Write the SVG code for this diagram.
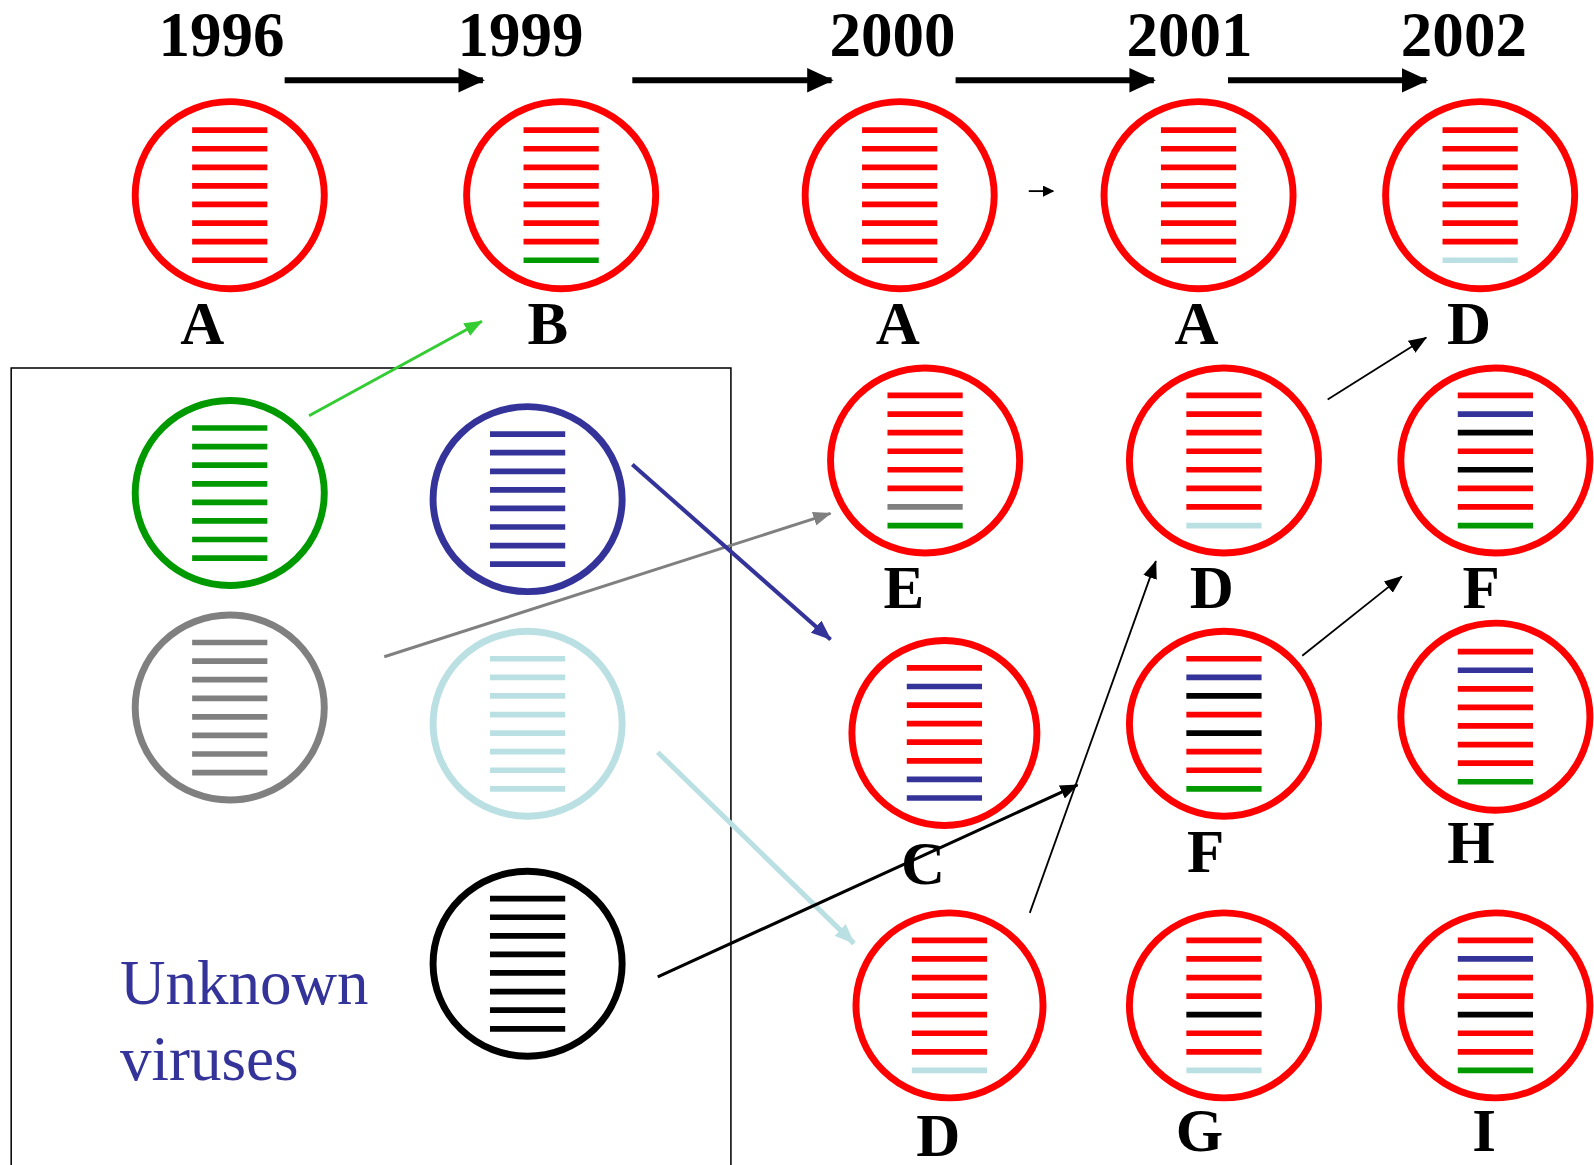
<svg xmlns="http://www.w3.org/2000/svg" width="1594" height="1165" viewBox="0 0 1594 1165">
  <style>
    .yr { font-family: "Liberation Serif", "Times New Roman", serif; font-weight: bold; font-size: 62px; fill: #000; text-anchor: middle; }
    .lbl { font-family: "Liberation Serif", "Times New Roman", serif; font-weight: bold; font-size: 60px; fill: #000; text-anchor: middle; }
    .note { font-family: "Liberation Serif", "Times New Roman", serif; font-size: 62px; fill: #333399; }
    .cell { fill: none; stroke-width: 6.8; }
    .bar { stroke-width: 5.6; }
    .r { stroke: #ff0000; }
    .g { stroke: #009900; }
    .b { stroke: #333399; }
    .k { stroke: #000000; }
    .s { stroke: #808080; }
    .c { stroke: #bbe0e3; }
  </style>
  <defs>
    <marker id="headBig" markerUnits="userSpaceOnUse" markerWidth="26" markerHeight="24" refX="24" refY="12" orient="auto">
      <path d="M0,0 L26,12 L0,24 Z" fill="#000"/>
    </marker>
    <marker id="headGreen" markerUnits="userSpaceOnUse" markerWidth="18" markerHeight="14" refX="17" refY="7" orient="auto">
      <path d="M0,0 L18,7 L0,14 Z" fill="#33cc33"/>
    </marker>
    <marker id="headGray" markerUnits="userSpaceOnUse" markerWidth="18" markerHeight="14" refX="17" refY="7" orient="auto">
      <path d="M0,0 L18,7 L0,14 Z" fill="#808080"/>
    </marker>
    <marker id="headBlue" markerUnits="userSpaceOnUse" markerWidth="20" markerHeight="16" refX="19" refY="8" orient="auto">
      <path d="M0,0 L20,8 L0,16 Z" fill="#333399"/>
    </marker>
    <marker id="headCyan" markerUnits="userSpaceOnUse" markerWidth="20" markerHeight="16" refX="19" refY="8" orient="auto">
      <path d="M0,0 L20,8 L0,16 Z" fill="#bbe0e3"/>
    </marker>
    <marker id="headBlack" markerUnits="userSpaceOnUse" markerWidth="18" markerHeight="14" refX="17" refY="7" orient="auto">
      <path d="M0,0 L18,7 L0,14 Z" fill="#000"/>
    </marker>
    <marker id="headTiny" markerUnits="userSpaceOnUse" markerWidth="11" markerHeight="11" refX="10" refY="5.5" orient="auto">
      <path d="M0,0 L11,5.5 L0,11 Z" fill="#000"/>
    </marker>
  </defs>

  <rect width="1594" height="1165" fill="#fff"/>

  <g transform="scale(1.01658)">
    <!-- year headings -->
    <g id="years">
      <text class="yr" x="218" y="55">1996</text>
      <text class="yr" x="512" y="55">1999</text>
      <text class="yr" x="878" y="55">2000</text>
      <text class="yr" x="1170" y="55">2001</text>
      <text class="yr" x="1440" y="55">2002</text>
    </g>

    <!-- frame around the unknown viruses -->
    <rect id="unknown-box" x="11" y="362" width="708" height="820" fill="none" stroke="#000" stroke-width="1.5"/>
    <g id="unknown-label">
      <text class="note" x="118" y="988">Unknown</text>
      <text class="note" x="118" y="1062">viruses</text>
    </g>

    <!-- connectors -->
    <g id="connectors" fill="none">
      <line x1="280" y1="79" x2="475" y2="79" stroke="#000" stroke-width="6" marker-end="url(#headBig)"/>
      <line x1="622" y1="79" x2="818" y2="79" stroke="#000" stroke-width="6" marker-end="url(#headBig)"/>
      <line x1="940" y1="79" x2="1135" y2="79" stroke="#000" stroke-width="6" marker-end="url(#headBig)"/>
      <line x1="1208" y1="79" x2="1403" y2="79" stroke="#000" stroke-width="6" marker-end="url(#headBig)"/>
      <line x1="1012" y1="188" x2="1036" y2="188" stroke="#000" stroke-width="1.8" marker-end="url(#headTiny)"/>
      <line x1="304" y1="409" x2="474" y2="316" stroke="#33cc33" stroke-width="3" marker-end="url(#headGreen)"/>
      <line x1="378" y1="646" x2="817" y2="505" stroke="#808080" stroke-width="3" marker-end="url(#headGray)"/>
      <line x1="622" y1="457" x2="817" y2="629" stroke="#333399" stroke-width="4" marker-end="url(#headBlue)"/>
      <line x1="647" y1="740" x2="840" y2="928" stroke="#bbe0e3" stroke-width="5" marker-end="url(#headCyan)"/>
      <line x1="647" y1="961" x2="1060" y2="772" stroke="#000" stroke-width="3" marker-end="url(#headBlack)"/>
      <line x1="1013" y1="898" x2="1137" y2="552" stroke="#000" stroke-width="1.8" marker-end="url(#headBlack)"/>
      <line x1="1281" y1="645" x2="1379" y2="567" stroke="#000" stroke-width="1.8" marker-end="url(#headBlack)"/>
      <line x1="1306" y1="393" x2="1403" y2="332" stroke="#000" stroke-width="1.8" marker-end="url(#headBlack)"/>
    </g>

    <!-- virus A, 1996 -->
    <g id="v1996-A" transform="translate(226,192)">
      <ellipse class="cell r" rx="93" ry="92"/>
      <g class="bar">
        <line class="r" x1="-37" x2="37" y1="-64" y2="-64"/>
        <line class="r" x1="-37" x2="37" y1="-45.7" y2="-45.7"/>
        <line class="r" x1="-37" x2="37" y1="-27.4" y2="-27.4"/>
        <line class="r" x1="-37" x2="37" y1="-9.1" y2="-9.1"/>
        <line class="r" x1="-37" x2="37" y1="9.1" y2="9.1"/>
        <line class="r" x1="-37" x2="37" y1="27.4" y2="27.4"/>
        <line class="r" x1="-37" x2="37" y1="45.7" y2="45.7"/>
        <line class="r" x1="-37" x2="37" y1="64" y2="64"/>
      </g>
      <text class="lbl" x="-27" y="146">A</text>
    </g>

    <!-- virus B, 1999 -->
    <g id="v1999-B" transform="translate(552,192)">
      <ellipse class="cell r" rx="93" ry="92"/>
      <g class="bar">
        <line class="r" x1="-37" x2="37" y1="-64" y2="-64"/>
        <line class="r" x1="-37" x2="37" y1="-45.7" y2="-45.7"/>
        <line class="r" x1="-37" x2="37" y1="-27.4" y2="-27.4"/>
        <line class="r" x1="-37" x2="37" y1="-9.1" y2="-9.1"/>
        <line class="r" x1="-37" x2="37" y1="9.1" y2="9.1"/>
        <line class="r" x1="-37" x2="37" y1="27.4" y2="27.4"/>
        <line class="r" x1="-37" x2="37" y1="45.7" y2="45.7"/>
        <line class="g" x1="-37" x2="37" y1="64" y2="64"/>
      </g>
      <text class="lbl" x="-13" y="146">B</text>
    </g>

    <!-- virus A, 2000 -->
    <g id="v2000-A" transform="translate(885,192)">
      <ellipse class="cell r" rx="93" ry="92"/>
      <g class="bar">
        <line class="r" x1="-37" x2="37" y1="-64" y2="-64"/>
        <line class="r" x1="-37" x2="37" y1="-45.7" y2="-45.7"/>
        <line class="r" x1="-37" x2="37" y1="-27.4" y2="-27.4"/>
        <line class="r" x1="-37" x2="37" y1="-9.1" y2="-9.1"/>
        <line class="r" x1="-37" x2="37" y1="9.1" y2="9.1"/>
        <line class="r" x1="-37" x2="37" y1="27.4" y2="27.4"/>
        <line class="r" x1="-37" x2="37" y1="45.7" y2="45.7"/>
        <line class="r" x1="-37" x2="37" y1="64" y2="64"/>
      </g>
      <text class="lbl" x="-2" y="146">A</text>
    </g>

    <!-- virus A, 2001 -->
    <g id="v2001-A" transform="translate(1179,192)">
      <ellipse class="cell r" rx="93" ry="92"/>
      <g class="bar">
        <line class="r" x1="-37" x2="37" y1="-64" y2="-64"/>
        <line class="r" x1="-37" x2="37" y1="-45.7" y2="-45.7"/>
        <line class="r" x1="-37" x2="37" y1="-27.4" y2="-27.4"/>
        <line class="r" x1="-37" x2="37" y1="-9.1" y2="-9.1"/>
        <line class="r" x1="-37" x2="37" y1="9.1" y2="9.1"/>
        <line class="r" x1="-37" x2="37" y1="27.4" y2="27.4"/>
        <line class="r" x1="-37" x2="37" y1="45.7" y2="45.7"/>
        <line class="r" x1="-37" x2="37" y1="64" y2="64"/>
      </g>
      <text class="lbl" x="-2" y="146">A</text>
    </g>

    <!-- virus D, 2002 -->
    <g id="v2002-D" transform="translate(1456,192)">
      <ellipse class="cell r" rx="93" ry="92"/>
      <g class="bar">
        <line class="r" x1="-37" x2="37" y1="-64" y2="-64"/>
        <line class="r" x1="-37" x2="37" y1="-45.7" y2="-45.7"/>
        <line class="r" x1="-37" x2="37" y1="-27.4" y2="-27.4"/>
        <line class="r" x1="-37" x2="37" y1="-9.1" y2="-9.1"/>
        <line class="r" x1="-37" x2="37" y1="9.1" y2="9.1"/>
        <line class="r" x1="-37" x2="37" y1="27.4" y2="27.4"/>
        <line class="r" x1="-37" x2="37" y1="45.7" y2="45.7"/>
        <line class="c" x1="-37" x2="37" y1="64" y2="64"/>
      </g>
      <text class="lbl" x="-11" y="146">D</text>
    </g>

    <!-- virus E, 2000 -->
    <g id="v2000-E" transform="translate(910,453)">
      <ellipse class="cell r" rx="93" ry="91"/>
      <g class="bar">
        <line class="r" x1="-37" x2="37" y1="-64" y2="-64"/>
        <line class="r" x1="-37" x2="37" y1="-45.7" y2="-45.7"/>
        <line class="r" x1="-37" x2="37" y1="-27.4" y2="-27.4"/>
        <line class="r" x1="-37" x2="37" y1="-9.1" y2="-9.1"/>
        <line class="r" x1="-37" x2="37" y1="9.1" y2="9.1"/>
        <line class="r" x1="-37" x2="37" y1="27.4" y2="27.4"/>
        <line class="s" x1="-37" x2="37" y1="45.7" y2="45.7"/>
        <line class="g" x1="-37" x2="37" y1="64" y2="64"/>
      </g>
      <text class="lbl" x="-21" y="145">E</text>
    </g>

    <!-- virus D, 2001 -->
    <g id="v2001-D" transform="translate(1204,453)">
      <ellipse class="cell r" rx="93" ry="91"/>
      <g class="bar">
        <line class="r" x1="-37" x2="37" y1="-64" y2="-64"/>
        <line class="r" x1="-37" x2="37" y1="-45.7" y2="-45.7"/>
        <line class="r" x1="-37" x2="37" y1="-27.4" y2="-27.4"/>
        <line class="r" x1="-37" x2="37" y1="-9.1" y2="-9.1"/>
        <line class="r" x1="-37" x2="37" y1="9.1" y2="9.1"/>
        <line class="r" x1="-37" x2="37" y1="27.4" y2="27.4"/>
        <line class="r" x1="-37" x2="37" y1="45.7" y2="45.7"/>
        <line class="c" x1="-37" x2="37" y1="64" y2="64"/>
      </g>
      <text class="lbl" x="-12" y="145">D</text>
    </g>

    <!-- virus F, 2002 -->
    <g id="v2002-F" transform="translate(1471,453)">
      <ellipse class="cell r" rx="93" ry="91"/>
      <g class="bar">
        <line class="r" x1="-37" x2="37" y1="-64" y2="-64"/>
        <line class="b" x1="-37" x2="37" y1="-45.7" y2="-45.7"/>
        <line class="k" x1="-37" x2="37" y1="-27.4" y2="-27.4"/>
        <line class="r" x1="-37" x2="37" y1="-9.1" y2="-9.1"/>
        <line class="k" x1="-37" x2="37" y1="9.1" y2="9.1"/>
        <line class="r" x1="-37" x2="37" y1="27.4" y2="27.4"/>
        <line class="r" x1="-37" x2="37" y1="45.7" y2="45.7"/>
        <line class="g" x1="-37" x2="37" y1="64" y2="64"/>
      </g>
      <text class="lbl" x="-14" y="145">F</text>
    </g>

    <!-- virus C, 2000 -->
    <g id="v2000-C" transform="translate(929,721)">
      <ellipse class="cell r" rx="91" ry="91"/>
      <g class="bar">
        <line class="r" x1="-37" x2="37" y1="-64" y2="-64"/>
        <line class="b" x1="-37" x2="37" y1="-45.7" y2="-45.7"/>
        <line class="r" x1="-37" x2="37" y1="-27.4" y2="-27.4"/>
        <line class="r" x1="-37" x2="37" y1="-9.1" y2="-9.1"/>
        <line class="r" x1="-37" x2="37" y1="9.1" y2="9.1"/>
        <line class="r" x1="-37" x2="37" y1="27.4" y2="27.4"/>
        <line class="b" x1="-37" x2="37" y1="45.7" y2="45.7"/>
        <line class="b" x1="-37" x2="37" y1="64" y2="64"/>
      </g>
      <text class="lbl" x="-21" y="149">C</text>
    </g>

    <!-- virus F, 2001 -->
    <g id="v2001-F" transform="translate(1204,712)">
      <ellipse class="cell r" rx="93" ry="91"/>
      <g class="bar">
        <line class="r" x1="-37" x2="37" y1="-64" y2="-64"/>
        <line class="b" x1="-37" x2="37" y1="-45.7" y2="-45.7"/>
        <line class="k" x1="-37" x2="37" y1="-27.4" y2="-27.4"/>
        <line class="r" x1="-37" x2="37" y1="-9.1" y2="-9.1"/>
        <line class="k" x1="-37" x2="37" y1="9.1" y2="9.1"/>
        <line class="r" x1="-37" x2="37" y1="27.4" y2="27.4"/>
        <line class="r" x1="-37" x2="37" y1="45.7" y2="45.7"/>
        <line class="g" x1="-37" x2="37" y1="64" y2="64"/>
      </g>
      <text class="lbl" x="-18" y="146">F</text>
    </g>

    <!-- virus H, 2002 -->
    <g id="v2002-H" transform="translate(1471,705)">
      <ellipse class="cell r" rx="93" ry="92"/>
      <g class="bar">
        <line class="r" x1="-37" x2="37" y1="-64" y2="-64"/>
        <line class="b" x1="-37" x2="37" y1="-45.7" y2="-45.7"/>
        <line class="r" x1="-37" x2="37" y1="-27.4" y2="-27.4"/>
        <line class="r" x1="-37" x2="37" y1="-9.1" y2="-9.1"/>
        <line class="r" x1="-37" x2="37" y1="9.1" y2="9.1"/>
        <line class="r" x1="-37" x2="37" y1="27.4" y2="27.4"/>
        <line class="r" x1="-37" x2="37" y1="45.7" y2="45.7"/>
        <line class="g" x1="-37" x2="37" y1="64" y2="64"/>
      </g>
      <text class="lbl" x="-24" y="144">H</text>
    </g>

    <!-- virus D, 2000 (lower) -->
    <g id="v2000-D" transform="translate(934,989)">
      <ellipse class="cell r" rx="92" ry="91"/>
      <g class="bar">
        <line class="r" x1="-37" x2="37" y1="-64" y2="-64"/>
        <line class="r" x1="-37" x2="37" y1="-45.7" y2="-45.7"/>
        <line class="r" x1="-37" x2="37" y1="-27.4" y2="-27.4"/>
        <line class="r" x1="-37" x2="37" y1="-9.1" y2="-9.1"/>
        <line class="r" x1="-37" x2="37" y1="9.1" y2="9.1"/>
        <line class="r" x1="-37" x2="37" y1="27.4" y2="27.4"/>
        <line class="r" x1="-37" x2="37" y1="45.7" y2="45.7"/>
        <line class="c" x1="-37" x2="37" y1="64" y2="64"/>
      </g>
      <text class="lbl" x="-11" y="148">D</text>
    </g>

    <!-- virus G, 2001 -->
    <g id="v2001-G" transform="translate(1204,989)">
      <ellipse class="cell r" rx="93" ry="91"/>
      <g class="bar">
        <line class="r" x1="-37" x2="37" y1="-64" y2="-64"/>
        <line class="r" x1="-37" x2="37" y1="-45.7" y2="-45.7"/>
        <line class="r" x1="-37" x2="37" y1="-27.4" y2="-27.4"/>
        <line class="r" x1="-37" x2="37" y1="-9.1" y2="-9.1"/>
        <line class="k" x1="-37" x2="37" y1="9.1" y2="9.1"/>
        <line class="r" x1="-37" x2="37" y1="27.4" y2="27.4"/>
        <line class="r" x1="-37" x2="37" y1="45.7" y2="45.7"/>
        <line class="c" x1="-37" x2="37" y1="64" y2="64"/>
      </g>
      <text class="lbl" x="-24" y="143">G</text>
    </g>

    <!-- virus I, 2002 -->
    <g id="v2002-I" transform="translate(1471,989)">
      <ellipse class="cell r" rx="93" ry="91"/>
      <g class="bar">
        <line class="r" x1="-37" x2="37" y1="-64" y2="-64"/>
        <line class="b" x1="-37" x2="37" y1="-45.7" y2="-45.7"/>
        <line class="r" x1="-37" x2="37" y1="-27.4" y2="-27.4"/>
        <line class="r" x1="-37" x2="37" y1="-9.1" y2="-9.1"/>
        <line class="k" x1="-37" x2="37" y1="9.1" y2="9.1"/>
        <line class="r" x1="-37" x2="37" y1="27.4" y2="27.4"/>
        <line class="r" x1="-37" x2="37" y1="45.7" y2="45.7"/>
        <line class="g" x1="-37" x2="37" y1="64" y2="64"/>
      </g>
      <text class="lbl" x="-11" y="143">I</text>
    </g>

    <!-- unknown virus pool -->
    <g id="unknown-green" transform="translate(226,485)">
      <ellipse class="cell g" rx="93" ry="91"/>
      <g class="bar g">
        <line x1="-37" x2="37" y1="-64" y2="-64"/>
        <line x1="-37" x2="37" y1="-45.7" y2="-45.7"/>
        <line x1="-37" x2="37" y1="-27.4" y2="-27.4"/>
        <line x1="-37" x2="37" y1="-9.1" y2="-9.1"/>
        <line x1="-37" x2="37" y1="9.1" y2="9.1"/>
        <line x1="-37" x2="37" y1="27.4" y2="27.4"/>
        <line x1="-37" x2="37" y1="45.7" y2="45.7"/>
        <line x1="-37" x2="37" y1="64" y2="64"/>
      </g>
    </g>

    <g id="unknown-blue" transform="translate(519,491)">
      <ellipse class="cell b" rx="93" ry="91"/>
      <g class="bar b">
        <line x1="-37" x2="37" y1="-64" y2="-64"/>
        <line x1="-37" x2="37" y1="-45.7" y2="-45.7"/>
        <line x1="-37" x2="37" y1="-27.4" y2="-27.4"/>
        <line x1="-37" x2="37" y1="-9.1" y2="-9.1"/>
        <line x1="-37" x2="37" y1="9.1" y2="9.1"/>
        <line x1="-37" x2="37" y1="27.4" y2="27.4"/>
        <line x1="-37" x2="37" y1="45.7" y2="45.7"/>
        <line x1="-37" x2="37" y1="64" y2="64"/>
      </g>
    </g>

    <g id="unknown-gray" transform="translate(226,696)">
      <ellipse class="cell s" rx="93" ry="91"/>
      <g class="bar s">
        <line x1="-37" x2="37" y1="-64" y2="-64"/>
        <line x1="-37" x2="37" y1="-45.7" y2="-45.7"/>
        <line x1="-37" x2="37" y1="-27.4" y2="-27.4"/>
        <line x1="-37" x2="37" y1="-9.1" y2="-9.1"/>
        <line x1="-37" x2="37" y1="9.1" y2="9.1"/>
        <line x1="-37" x2="37" y1="27.4" y2="27.4"/>
        <line x1="-37" x2="37" y1="45.7" y2="45.7"/>
        <line x1="-37" x2="37" y1="64" y2="64"/>
      </g>
    </g>

    <g id="unknown-lightblue" transform="translate(519,712)">
      <ellipse class="cell c" rx="93" ry="91"/>
      <g class="bar c">
        <line x1="-37" x2="37" y1="-64" y2="-64"/>
        <line x1="-37" x2="37" y1="-45.7" y2="-45.7"/>
        <line x1="-37" x2="37" y1="-27.4" y2="-27.4"/>
        <line x1="-37" x2="37" y1="-9.1" y2="-9.1"/>
        <line x1="-37" x2="37" y1="9.1" y2="9.1"/>
        <line x1="-37" x2="37" y1="27.4" y2="27.4"/>
        <line x1="-37" x2="37" y1="45.7" y2="45.7"/>
        <line x1="-37" x2="37" y1="64" y2="64"/>
      </g>
    </g>

    <g id="unknown-black" transform="translate(519,948)">
      <ellipse class="cell k" rx="93" ry="91"/>
      <g class="bar k">
        <line x1="-37" x2="37" y1="-64" y2="-64"/>
        <line x1="-37" x2="37" y1="-45.7" y2="-45.7"/>
        <line x1="-37" x2="37" y1="-27.4" y2="-27.4"/>
        <line x1="-37" x2="37" y1="-9.1" y2="-9.1"/>
        <line x1="-37" x2="37" y1="9.1" y2="9.1"/>
        <line x1="-37" x2="37" y1="27.4" y2="27.4"/>
        <line x1="-37" x2="37" y1="45.7" y2="45.7"/>
        <line x1="-37" x2="37" y1="64" y2="64"/>
      </g>
    </g>
  </g>
</svg>
